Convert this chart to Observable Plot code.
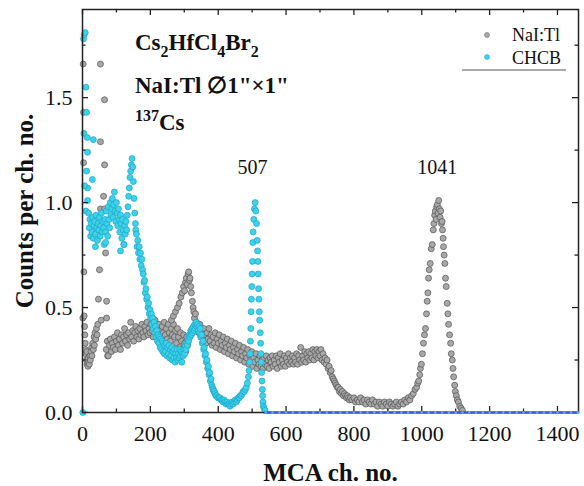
<!DOCTYPE html>
<html><head><meta charset="utf-8">
<script src="https://cdn.jsdelivr.net/npm/d3@7"></script>
<script src="https://cdn.jsdelivr.net/npm/@observablehq/plot@0.6"></script>
<style>
body{margin:0;background:#fff;}
#chart svg{font-family:"Liberation Serif","Times New Roman",serif;}
g[aria-label="x-axis label"] text, g[aria-label="y-axis label"] text{font-weight:bold;font-size:25px;fill:#111;}
g[aria-label="x-axis tick label"] text, g[aria-label="y-axis tick label"] text{font-size:22px;fill:#111;}
</style></head><body><div id="chart"></div>
<script>
// NaI:Tl spectrum (MCA channel, counts per channel)
const naiChannel = [
1,2,3,3,4,5,6,7,8,9,10,12,13,14,16,17,18,20,22,23,25,27,28,30,32,34,35,37,39,41,43,45,47,50,53,53,53,55,62,65,65,65,68,71,71,74,
70,73,76,79,82,85,88,91,94,97,100,103,106,109,112,115,118,121,124,127,130,133,136,139,142,145,148,151,154,157,160,163,166,169,172,175,178,181,184,187,190,193,196,199,
202,205,208,211,214,217,220,223,226,229,232,235,238,241,244,247,250,253,256,259,262,265,268,271,274,277,280,283,286,289,292,295,298,301,304,307,310,
262,268,274,280,285,290,294,298,301,304,306,309,311,313,315,317,319,321,324,326,328,330,333,336,
340,343,346,349,352,355,358,361,364,367,370,373,376,379,382,385,388,391,394,397,400,403,406,409,412,415,418,421,424,427,430,433,436,439,442,445,448,451,454,457,
460,463,466,469,472,475,478,481,484,487,490,493,496,499,502,505,508,511,514,517,520,523,526,529,532,535,538,541,544,547,550,553,556,559,562,565,568,571,574,577,
580,583,586,589,592,595,598,601,604,607,610,613,616,619,622,625,628,631,634,637,640,643,646,649,652,655,658,661,664,667,670,673,676,679,682,685,688,691,694,697,
700,703,706,709,712,715,718,721,724,727,730,733,736,739,742,745,748,751,754,757,760,763,766,769,772,775,778,781,784,787,790,795,800,805,810,815,820,825,830,835,
840,845,850,855,860,865,870,875,880,885,890,895,900,905,910,915,920,925,930,935,940,945,950,955,960,965,970,975,980,985,988,991,994,996,999,1002,1005,1008,1011,1014,
1016,1018,1020,1022,1025,1028,1031,1034,1036,1038,1040,1042,1044,1046,1048,1050,1052,1054,1056,1058,1060,1061,1063,1064,1066,1068,1070,1072,1075,1077,
1079,1082,1085,1087,1090,1092,1094,1097,1099,1102,1105,1108,1112,1116,1120
];
const naiCounts = [
0.45,1.66,1.43,1.19,0.67,0.46,0.41,0.37,0.33,0.30,0.28,0.25,0.29,0.23,0.22,0.26,0.24,0.23,0.27,0.25,0.29,0.31,0.27,0.33,0.30,0.36,0.32,0.38,0.35,0.40,0.37,0.42,0.54,0.68,1.66,1.29,0.97,0.44,1.03,1.49,1.18,0.97,0.76,0.53,0.45,0.27,
0.30,0.34,0.27,0.32,0.35,0.29,0.33,0.31,0.36,0.30,0.34,0.38,0.32,0.35,0.30,0.37,0.33,0.36,0.40,0.34,0.37,0.32,0.38,0.35,0.43,0.36,0.39,0.34,0.38,0.41,0.36,0.39,0.35,0.40,0.37,0.42,0.38,0.36,0.41,0.39,0.43,0.37,0.40,0.38,
0.42,0.39,0.36,0.41,0.44,0.38,0.40,0.37,0.42,0.39,0.36,0.41,0.38,0.43,0.37,0.40,0.35,0.42,0.38,0.34,0.40,0.37,0.42,0.36,0.39,0.33,0.40,0.36,0.31,0.38,0.34,0.30,0.37,0.33,0.29,0.36,0.32,
0.44,0.46,0.48,0.50,0.52,0.55,0.57,0.60,0.58,0.62,0.64,0.61,0.66,0.67,0.63,0.64,0.60,0.57,0.53,0.50,0.48,0.45,0.47,0.43,
0.41,0.38,0.42,0.36,0.39,0.35,0.40,0.37,0.33,0.38,0.35,0.40,0.34,0.37,0.32,0.36,0.33,0.38,0.31,0.35,0.33,0.37,0.30,0.34,0.32,0.36,0.29,0.33,0.31,0.35,0.28,0.32,0.30,0.34,0.27,0.31,0.29,0.33,0.26,0.30,
0.28,0.32,0.25,0.29,0.27,0.31,0.24,0.28,0.26,0.30,0.23,0.27,0.25,0.29,0.22,0.26,0.24,0.28,0.21,0.25,0.23,0.27,0.22,0.25,0.21,0.26,0.23,0.27,0.22,0.25,0.21,0.26,0.24,0.27,0.22,0.25,0.23,0.27,0.21,0.26,
0.24,0.28,0.22,0.25,0.23,0.27,0.22,0.26,0.24,0.28,0.23,0.26,0.24,0.27,0.23,0.26,0.24,0.28,0.23,0.27,0.25,0.31,0.24,0.27,0.25,0.29,0.24,0.28,0.26,0.29,0.25,0.28,0.26,0.30,0.25,0.29,0.27,0.30,0.26,0.29,
0.27,0.30,0.25,0.28,0.24,0.26,0.23,0.25,0.21,0.22,0.19,0.20,0.17,0.16,0.15,0.14,0.13,0.12,0.12,0.10,0.11,0.09,0.10,0.08,0.09,0.08,0.07,0.08,0.07,0.06,0.07,0.06,0.07,0.05,0.06,0.05,0.07,0.05,0.06,0.04,
0.06,0.05,0.04,0.06,0.04,0.05,0.03,0.05,0.04,0.03,0.05,0.04,0.03,0.05,0.04,0.03,0.04,0.05,0.03,0.04,0.05,0.04,0.06,0.05,0.07,0.06,0.08,0.09,0.11,0.12,0.14,0.15,0.18,0.21,0.23,0.28,0.33,0.37,0.40,0.47,
0.53,0.57,0.64,0.68,0.71,0.78,0.80,0.87,0.90,0.94,0.96,0.92,0.98,0.99,0.95,1.01,0.97,0.93,0.96,0.90,0.91,0.87,0.83,0.79,0.75,0.71,0.64,0.60,0.52,0.47,
0.42,0.37,0.33,0.28,0.25,0.21,0.17,0.13,0.10,0.08,0.06,0.05,0.03,0.02,0.01
];

// CHCB (Cs2HfCl4Br2) spectrum
const chcbChannel = [
1,3,5,8,10,12,4,14,32,15,12,29,15,15,6,10,
18,20,22,24,26,28,30,32,34,36,38,40,42,44,46,48,50,52,54,56,58,60,62,64,66,68,70,72,74,76,78,80,82,84,86,88,90,92,94,96,98,100,
102,104,106,108,110,112,114,116,118,120,122,124,126,128,130,132,134,136,138,140,142,144,146,148,150,152,154,156,157,38,68,112,122,
159,161,163,165,167,169,171,173,175,177,179,181,183,185,187,189,191,193,195,197,199,201,203,205,207,209,211,213,215,217,219,221,223,225,227,229,231,233,235,237,
239,241,243,245,247,249,251,253,255,257,259,261,263,265,267,269,271,273,275,277,279,281,283,285,287,289,291,293,295,297,299,301,303,305,307,309,311,313,315,317,
319,321,323,325,327,329,331,333,335,337,339,341,343,345,347,349,351,353,355,357,359,361,363,365,367,369,371,373,375,377,379,381,383,385,387,389,391,393,396,399,
402,405,408,411,414,417,420,423,426,429,432,435,438,441,444,447,450,453,456,459,462,465,468,471,474,477,480,483,486,489,
491,493,494,495,496,497,498,499,500,501,502,503,505,507,509,511,513,515,516,517,518,519,520,521,522,524,525,526,527,528,529,530,531,532,533,535,538
];
const chcbCounts = [
0.00,1.78,1.80,1.81,1.55,1.43,1.33,1.31,1.30,1.24,1.15,1.11,1.07,1.01,1.08,0.96,
0.95,0.88,0.92,0.84,0.90,0.86,0.93,0.83,0.89,0.91,0.85,0.94,0.88,0.82,0.90,0.87,0.93,0.84,0.89,0.95,0.86,0.91,0.88,0.80,0.92,0.86,0.96,0.90,0.84,0.98,0.92,0.88,1.00,0.94,0.97,1.02,0.93,0.99,1.05,0.96,0.91,1.00,
0.95,0.89,0.97,0.92,0.86,0.94,0.90,0.83,0.92,0.87,0.80,0.89,0.85,0.91,0.87,0.94,0.98,1.03,1.07,1.12,1.15,1.18,1.21,1.17,1.10,1.02,0.95,0.90,0.87,0.79,0.81,0.77,0.80,
0.85,0.79,0.82,0.76,0.79,0.73,0.76,0.70,0.73,0.68,0.66,0.62,0.63,0.57,0.59,0.54,0.55,0.50,0.52,0.47,0.49,0.45,0.47,0.42,0.45,0.40,0.43,0.38,0.41,0.36,0.39,0.34,0.37,0.33,0.36,0.31,0.35,0.30,0.34,0.29,
0.33,0.28,0.32,0.29,0.33,0.27,0.31,0.28,0.32,0.26,0.30,0.27,0.31,0.25,0.29,0.26,0.30,0.24,0.28,0.26,0.30,0.25,0.28,0.26,0.30,0.27,0.29,0.24,0.28,0.27,0.30,0.28,0.32,0.30,0.33,0.32,0.35,0.34,0.37,0.36,
0.39,0.37,0.40,0.38,0.41,0.39,0.42,0.40,0.43,0.41,0.42,0.39,0.41,0.38,0.40,0.36,0.37,0.33,0.34,0.30,0.31,0.27,0.28,0.24,0.25,0.21,0.22,0.18,0.19,0.15,0.16,0.13,0.12,0.11,0.10,0.10,0.09,0.08,0.08,0.07,
0.07,0.07,0.06,0.06,0.05,0.06,0.05,0.04,0.05,0.04,0.04,0.03,0.04,0.05,0.04,0.05,0.06,0.05,0.06,0.07,0.07,0.08,0.08,0.09,0.10,0.10,0.11,0.12,0.14,0.17,
0.20,0.24,0.28,0.34,0.40,0.48,0.54,0.60,0.66,0.72,0.81,0.86,0.92,0.97,1.00,0.96,0.90,0.82,0.77,0.72,0.66,0.59,0.54,0.48,0.44,0.38,0.33,0.28,0.24,0.19,0.15,0.11,0.08,0.05,0.03,0.02,0.01
];
// CHCB flat tail beyond the 507 peak
const chcbTailChannel = [540,560,580,600,620,640,660,680,700,720,740,760,780,800,820,840,860,880,900,920,940,960,980,1000,1020,1040,1060,1080,1100,1120,1140,1160,1180,1200,1220,1240,1260,1280,1300,1320,1340,1360,1380,1400,1420,1440,1460];
const chcbTailCounts = [0,0,0,0,0,0,0,0,0,0,0,0,0,0,0,0,0,0,0,0,0,0,0,0,0,0,0,0,0,0,0,0,0,0,0,0,0,0,0,0,0,0,0,0,0,0,0];

// peak annotations
const peakLabels = ["507","1041"];
const peakLabelX = [501, 1046];
const peakLabelY = [1.167, 1.167];

// axis ticks
const xMajor = [0,200,400,600,800,1000,1200,1400];
const xMinor = [100,300,500,700,900,1100,1300];
const yMajor = [0,0.5,1.0,1.5];
const yMinor = [0.25,0.75,1.25,1.75];

const W = 584, H = 486, mL = 82, mR = 6, mT = 9, mB = 74;
const fW = W - mL - mR, fH = H - mT - mB;
const serif = '"Liberation Serif","Times New Roman",serif';

const nai = naiChannel.map((x, i) => ({x, y: naiCounts[i]}));
const chcb = chcbChannel.map((x, i) => ({x, y: chcbCounts[i]}));
const tail = chcbTailChannel.map((x, i) => ({x, y: chcbTailCounts[i]}));
const peaks = peakLabels.map((t, i) => ({t, x: peakLabelX[i], y: peakLabelY[i]}));

const tickStyle = {stroke: "#222", strokeWidth: 1.3};
const plot = Plot.plot({
  width: W, height: H,
  marginLeft: mL, marginRight: mR, marginTop: mT, marginBottom: mB,
  style: {fontFamily: serif, fontSize: "22px", color: "#111", background: "#fff", overflow: "visible"},
  x: {domain: [0, 1462]},
  y: {domain: [0, 1.92]},
  marks: [
    Plot.dot(nai, {x: "x", y: "y", r: 3, fill: "#a8a8a8", stroke: "#555", strokeWidth: 0.7}),
    Plot.dot(chcb, {x: "x", y: "y", r: 3, fill: "#3dd3e6", stroke: "#1ba3cf", strokeWidth: 0.7}),
    Plot.text(peaks, {x: "x", y: "y", text: "t", fontSize: 20, fill: "#111", fontFamily: serif}),
    Plot.tickX(xMajor, {x: d => d, insetTop: fH - 6, ...tickStyle}),
    Plot.tickX(xMinor, {x: d => d, insetTop: fH - 3.5, ...tickStyle}),
    Plot.tickX(xMajor, {x: d => d, insetBottom: fH - 6, ...tickStyle}),
    Plot.tickX(xMinor, {x: d => d, insetBottom: fH - 3.5, ...tickStyle}),
    Plot.tickY(yMajor, {y: d => d, insetRight: fW - 6, ...tickStyle}),
    Plot.tickY(yMinor, {y: d => d, insetRight: fW - 3.5, ...tickStyle}),
    Plot.tickY(yMajor, {y: d => d, insetLeft: fW - 6, ...tickStyle}),
    Plot.tickY(yMinor, {y: d => d, insetLeft: fW - 3.5, ...tickStyle}),
    Plot.frame({stroke: "#222", strokeWidth: 1.5}),
    Plot.line(tail, {x: "x", y: "y", stroke: "#2d5fe0", strokeWidth: 2.5}),
    Plot.dot(tail, {x: "x", y: "y", r: 1.2, fill: "#62b4ee", stroke: "none"}),
    Plot.axisX(xMajor, {tickSize: 0, tickPadding: 13, tickFormat: d => String(d), label: "MCA ch. no.", labelAnchor: "center", labelOffset: 68, labelArrow: false}),
    Plot.axisY(yMajor, {tickSize: 0, tickPadding: 10, tickFormat: d => d.toFixed(1), label: "Counts per ch. no.", labelAnchor: "center", labelOffset: 67, labelArrow: false})
  ]
});
document.getElementById("chart").appendChild(plot);

// in-plot title block and legend
const svg = d3.select(plot);
const ann = svg.append("g").attr("font-family", serif).attr("fill", "#111").attr("text-anchor", "start");
function rich(x, y, size, parts, weight) {
  const t = ann.append("text").attr("x", x).attr("y", y).attr("font-size", size).attr("font-weight", weight).attr("text-anchor", "start");
  let shift = 0;
  for (const [s, kind] of parts) {
    const ts = t.append("tspan").text(s);
    let target = 0, fs = size;
    if (kind === "sub") { target = Math.round(size * 0.3); fs = Math.round(size * 0.68); }
    if (kind === "sup") { target = -Math.round(size * 0.4); fs = Math.round(size * 0.68); }
    ts.attr("font-size", fs).attr("dy", target - shift);
    shift = target;
  }
}
rich(135, 50, 23, [["Cs"], ["2", "sub"], ["HfCl"], ["4", "sub"], ["Br"], ["2", "sub"]], "bold");
rich(135, 93, 23, [["NaI:Tl \u22051\"\u00d71\""]], "bold");
rich(135, 130, 23, [["137", "sup"], ["Cs"]], "bold");

const leg = svg.append("g").attr("font-family", serif).attr("font-size", 18).attr("fill", "#111").attr("text-anchor", "start");
leg.append("circle").attr("cx", 487).attr("cy", 35).attr("r", 2.5).attr("fill", "#a8a8a8").attr("stroke", "#666").attr("stroke-width", 0.5);
leg.append("circle").attr("cx", 487).attr("cy", 57).attr("r", 2.5).attr("fill", "#3dd3e6").attr("stroke", "#1ba3cf").attr("stroke-width", 0.5);
leg.append("text").attr("x", 512).attr("y", 41).text("NaI:Tl");
leg.append("text").attr("x", 512).attr("y", 64).text("CHCB");
leg.append("line").attr("x1", 462).attr("x2", 566).attr("y1", 70).attr("y2", 70).attr("stroke", "#555").attr("stroke-width", 1.2);
</script></body></html>
